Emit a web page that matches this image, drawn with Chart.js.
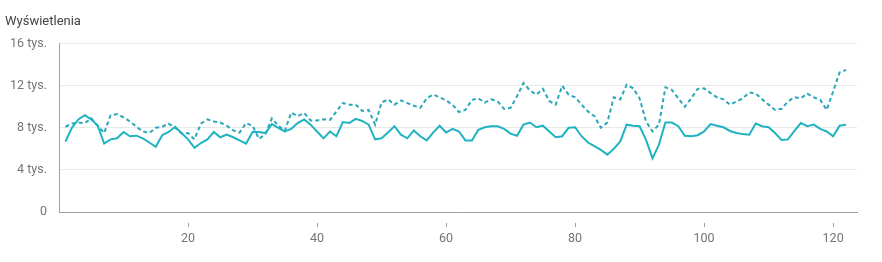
<!DOCTYPE html>
<html>
<head>
<meta charset="utf-8">
<script src="https://cdn.jsdelivr.net/npm/chart.js@4"></script>
<style>
  html, body { margin: 0; padding: 0; background: #fff; }
  #wrap { position: relative; width: 882px; height: 262px; }
</style>
</head>
<body>
<div id="wrap"><canvas id="lineChart"></canvas></div>
<script>
// days 1..122
const days = Array.from({ length: 122 }, (_, i) => i + 1);

// solid line (views)
const viewsSolid = [
  6700, 8000, 8800, 9200, 8800, 8200, 6500, 6900, 7000, 7600,
  7200, 7250, 7000, 6600, 6200, 7300, 7600, 8100, 7500, 6900,
  6100, 6550, 6900, 7600, 7100, 7350, 7100, 6800, 6500, 7600,
  7600, 7500, 8350, 8000, 7650, 7900, 8450, 8800, 8300, 7650,
  7000, 7650, 7200, 8550, 8450, 8850, 8650, 8300, 6900, 7000,
  7550, 8150, 7350, 7000, 7750, 7200, 6800, 7550, 8200, 7550,
  7900, 7650, 6800, 6800, 7800, 8050, 8150, 8150, 7900, 7450,
  7250, 8300, 8500, 8050, 8200, 7650, 7100, 7200, 8000, 8050,
  7200, 6600, 6250, 5900, 5450, 6000, 6700, 8300, 8200, 8150,
  6850, 5100, 6400, 8500, 8500, 8150, 7250, 7200, 7300, 7650,
  8350, 8200, 8050, 7700, 7500, 7400, 7350, 8400, 8150, 8050,
  7500, 6850, 6900, 7700, 8450, 8150, 8300, 7900, 7650, 7200,
  8200, 8300
];

// dashed line (comparison period)
const viewsDashed = [
  8100, 8400, 8500, 8450, 8900, 8200, 7500, 9200, 9300, 9000,
  8600, 8100, 7650, 7500, 8000, 8100, 8400, 8000, 7450, 7500,
  6900, 8400, 8800, 8600, 8500, 8200, 7750, 7550, 8450, 8200,
  6950, 7400, 8900, 8200, 7700, 9450, 9100, 9400, 8700, 8700,
  8800, 8750, 9550, 10350, 10200, 10200, 9600, 9700, 8300, 10400,
  10700, 10200, 10600, 10350, 10100, 9900, 10800, 11150, 10900, 10600,
  10200, 9500, 9700, 10650, 10800, 10400, 10700, 10500, 9800, 9900,
  11000, 12250, 11550, 11150, 11700, 10550, 10200, 12000, 11150, 10900,
  10200, 9550, 9100, 8000, 8500, 10900, 10700, 12100, 11750, 10800,
  8600, 7650, 8300, 11850, 11600, 10800, 10000, 10800, 11700, 11750,
  11300, 10900, 10700, 10200, 10500, 10800, 11350, 11250, 10700, 10200,
  9700, 9800, 10500, 10900, 10800, 11250, 10900, 10650, 9700, 11450,
  13250, 13500
];

const yTicks = [0, 4000, 8000, 12000, 16000];
const xTicks = [20, 40, 60, 80, 100, 120];

const toPoints = arr => arr.map((v, i) => ({ x: days[i], y: v }));

const ctx = document.getElementById('lineChart').getContext('2d');
const chart = new Chart(ctx, {
  type: 'line',
  data: {
    datasets: [
      {
        label: 'Wyświetlenia',
        data: toPoints(viewsSolid),
        borderColor: '#1fb3c1',
        borderWidth: 2,
        pointRadius: 0,
        tension: 0
      },
      {
        label: 'Poprzedni okres',
        data: toPoints(viewsDashed),
        borderColor: '#2aa8ba',
        borderWidth: 2,
        borderDash: [4, 3],
        pointRadius: 0,
        tension: 0
      }
    ]
  },
  options: {
    responsive: true,
    maintainAspectRatio: false,
    animation: false,
    layout: { padding: { left: 5, right: 25, top: 0, bottom: 0 } },
    plugins: {
      legend: { display: false },
      tooltip: { enabled: false },
      title: {
        display: true,
        text: 'Wyświetlenia',
        align: 'start',
        color: '#444',
        font: { family: 'Roboto', size: 13, weight: 'normal' },
        padding: { top: 14, bottom: 14 }
      }
    },
    scales: {
      x: {
        type: 'linear',
        min: 0,
        max: 123.7,
        afterBuildTicks: axis => {
          axis.ticks = xTicks.map(v => ({ value: v }));
        },
        afterFit: axis => { axis.height = 50; },
        border: { display: true, color: '#9e9e9e', width: 1 },
        grid: {
          drawOnChartArea: false,
          drawTicks: true,
          tickLength: 15,
          tickColor: '#9e9e9e',
          tickBorderDash: [0, 10, 5]
        },
        ticks: {
          color: '#757575',
          font: { family: 'Roboto', size: 12.5 },
          padding: 4,
          maxRotation: 0
        }
      },
      y: {
        min: 0,
        max: 16000,
        afterBuildTicks: axis => {
          axis.ticks = yTicks.map(v => ({ value: v }));
        },
        afterFit: axis => { axis.width = 54; },
        border: { display: true, color: '#9e9e9e', width: 1 },
        grid: { color: '#e8e8e8', drawTicks: false },
        ticks: {
          color: '#757575',
          font: { family: 'Roboto', size: 12.5 },
          padding: 12,
          callback: v => v === 0 ? '0' : (v / 1000) + ' tys.'
        }
      }
    }
  }
});
</script>
</body>
</html>
